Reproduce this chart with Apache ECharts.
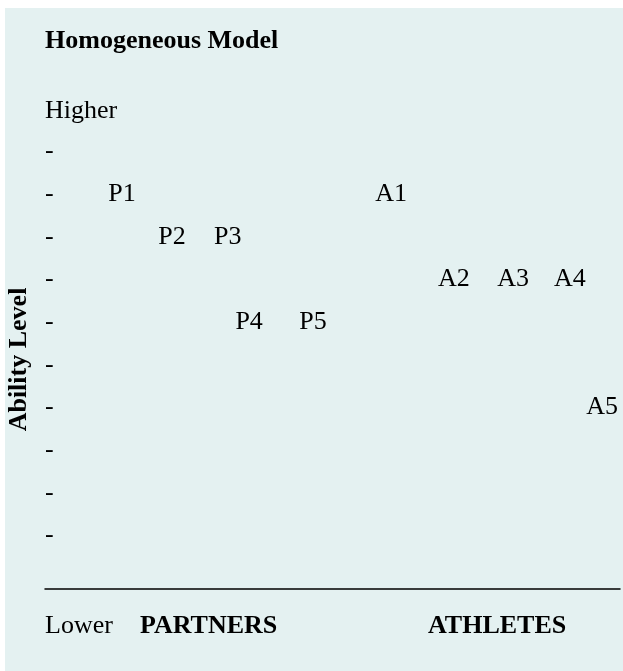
<!DOCTYPE html>
<html>
<head>
<meta charset="utf-8">
<script src="https://cdn.jsdelivr.net/npm/echarts@6/dist/echarts.min.js"></script>
<style>
html,body{margin:0;padding:0;background:#ffffff;}
#chart{width:623px;height:671px;}
</style>
</head>
<body>
<div id="chart"></div>
<script>
// Data (x: horizontal position 0-100 across the chart, y: ability level 1-10)
const partnerNames = ['P1', 'P2', 'P3', 'P4', 'P5'];
const partnerX = [13.4, 22.1, 31.8, 35.5, 46.6];
const partnerY = [9, 8, 8, 6, 6];
const athleteNames = ['A1', 'A2', 'A3', 'A4', 'A5'];
const athleteX = [60.2, 71.1, 81.4, 91.3, 96.9];
const athleteY = [9, 7, 7, 7, 4];
const levelTicks = [1, 2, 3, 4, 5, 6, 7, 8, 9, 10];
const titleText = 'Homogeneous Model';
const yAxisName = 'Ability Level';
const higherText = 'Higher';
const lowerText = 'Lower';
const groupLabels = ['PARTNERS', 'ATHLETES'];

const FONT = '"Liberation Serif", "Times New Roman", serif';

const chart = echarts.init(document.getElementById('chart'), null, {renderer: 'canvas'});

function mkData(names, xs, ys) {
  return names.map((n, i) => ({name: n, value: [xs[i], ys[i]]}));
}

const labelStyle = {
  show: true,
  position: 'inside',
  formatter: '{b}',
  color: '#000000',
  opacity: 1,
  textBorderWidth: 0,
  textShadowBlur: 0,
  fontFamily: FONT,
  fontSize: 26
};

const option = {
  backgroundColor: '#ffffff',
  animation: false,
  graphic: [
    {type: 'rect', z: -10, shape: {x: 5, y: 8, width: 620, height: 670}, style: {fill: '#e4f1f1'}},
    {type: 'text', left: 45, top: 98, style: {text: higherText, fill: '#000', font: '26px ' + FONT}},
    {type: 'text', left: 45, top: 613, style: {text: lowerText, fill: '#000', font: '26px ' + FONT}},
    {type: 'text', left: 140, top: 613, style: {text: groupLabels[0], fill: '#000', font: 'bold 26px ' + FONT}},
    {type: 'text', left: 428, top: 613, style: {text: groupLabels[1], fill: '#000', font: 'bold 26px ' + FONT}}
  ],
  title: {
    text: titleText,
    left: 45,
    top: 28,
    padding: 0,
    textStyle: {fontFamily: FONT, fontSize: 26, fontWeight: 'bold', color: '#000'}
  },
  grid: {left: 45, right: 3, top: 130, bottom: 82, containLabel: false, outerBoundsMode: 'none'},
  xAxis: {
    type: 'value',
    min: 0,
    max: 100,
    axisLine: {show: true, onZero: false, lineStyle: {color: '#000', width: 1.5}},
    axisTick: {show: false},
    axisLabel: {show: false},
    splitLine: {show: false}
  },
  yAxis: {
    type: 'value',
    min: -0.25,
    max: 10.5,
    name: yAxisName,
    nameLocation: 'middle',
    nameRotate: 90,
    nameGap: 13,
    nameTextStyle: {fontFamily: FONT, fontSize: 26, fontWeight: 'bold', color: '#000'},
    axisLine: {show: false},
    axisTick: {show: false},
    splitLine: {show: false},
    axisLabel: {
      show: true,
      inside: true,
      margin: 0,
      customValues: levelTicks,
      formatter: () => '-',
      color: '#000',
      fontFamily: FONT,
      fontSize: 26
    }
  },
  series: [
    {
      name: 'Partners',
      type: 'scatter',
      symbolSize: 0,
      itemStyle: {color: 'rgba(0,0,0,0)'},
      label: labelStyle,
      emphasis: {disabled: true},
      data: mkData(partnerNames, partnerX, partnerY)
    },
    {
      name: 'Athletes',
      type: 'scatter',
      symbolSize: 0,
      itemStyle: {color: 'rgba(0,0,0,0)'},
      label: labelStyle,
      emphasis: {disabled: true},
      data: mkData(athleteNames, athleteX, athleteY)
    }
  ]
};

chart.setOption(option);
</script>
</body>
</html>
